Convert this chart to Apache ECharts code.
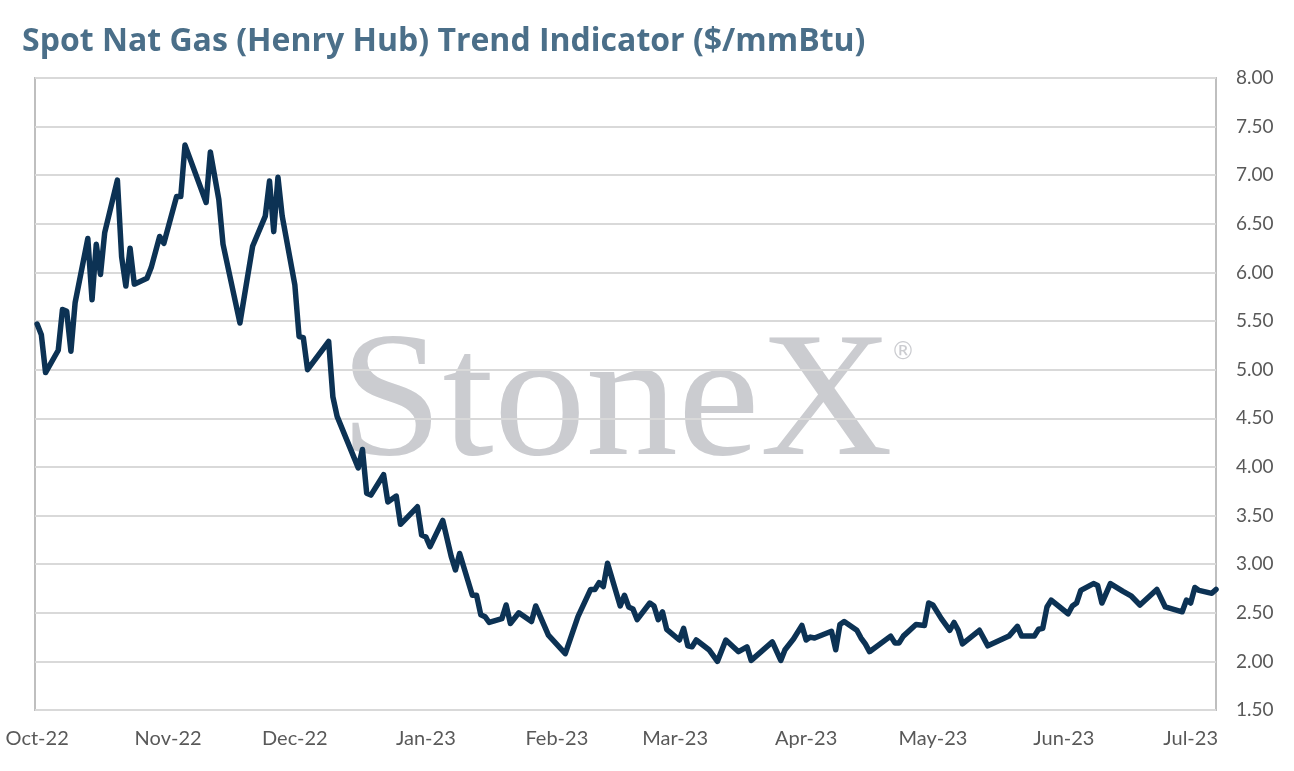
<!DOCTYPE html>
<html>
<head>
<meta charset="utf-8">
<script src="https://cdn.jsdelivr.net/npm/echarts@6/dist/echarts.min.js"></script>
<style>
html,body{margin:0;padding:0;background:#fff;}
#chart{width:1294px;height:771px;}
</style>
</head>
<body>
<div id="chart"></div>
<script>
const titleText = 'Spot Nat Gas (Henry Hub) Trend Indicator ($/mmBtu)';
const dates = [
'2022-10-01','2022-10-02','2022-10-03','2022-10-06','2022-10-07','2022-10-08','2022-10-09','2022-10-10',
'2022-10-13','2022-10-14','2022-10-15','2022-10-16','2022-10-17','2022-10-20','2022-10-21','2022-10-22',
'2022-10-23','2022-10-24','2022-10-27','2022-10-28','2022-10-30','2022-10-31','2022-11-03','2022-11-04',
'2022-11-05','2022-11-10','2022-11-11','2022-11-13','2022-11-14','2022-11-18','2022-11-21','2022-11-24',
'2022-11-25','2022-11-26','2022-11-27','2022-11-28','2022-12-01','2022-12-02','2022-12-03','2022-12-04',
'2022-12-09','2022-12-10','2022-12-11','2022-12-16','2022-12-17','2022-12-18','2022-12-19','2022-12-22',
'2022-12-23','2022-12-25','2022-12-26','2022-12-30','2022-12-31','2023-01-01','2023-01-02','2023-01-05',
'2023-01-07','2023-01-08','2023-01-09','2023-01-12','2023-01-13','2023-01-14','2023-01-15','2023-01-16',
'2023-01-19','2023-01-20','2023-01-21','2023-01-23','2023-01-26','2023-01-27','2023-01-30','2023-02-03',
'2023-02-06','2023-02-09','2023-02-10','2023-02-11','2023-02-12','2023-02-13','2023-02-16','2023-02-17',
'2023-02-18','2023-02-19','2023-02-20','2023-02-23','2023-02-24','2023-02-25','2023-02-26','2023-02-27',
'2023-03-02','2023-03-03','2023-03-04','2023-03-05','2023-03-06','2023-03-09','2023-03-11','2023-03-13',
'2023-03-16','2023-03-18','2023-03-19','2023-03-24','2023-03-26','2023-03-27','2023-03-29','2023-03-31',
'2023-04-01','2023-04-02','2023-04-03','2023-04-07','2023-04-08','2023-04-09','2023-04-10','2023-04-13',
'2023-04-14','2023-04-15','2023-04-16','2023-04-21','2023-04-22','2023-04-23','2023-04-24','2023-04-27',
'2023-04-29','2023-04-30','2023-05-01','2023-05-03','2023-05-05','2023-05-06','2023-05-07','2023-05-08',
'2023-05-12','2023-05-14','2023-05-19','2023-05-21','2023-05-22','2023-05-25','2023-05-26','2023-05-27',
'2023-05-28','2023-05-29','2023-06-02','2023-06-03','2023-06-04','2023-06-05','2023-06-08','2023-06-09',
'2023-06-10','2023-06-12','2023-06-15','2023-06-17','2023-06-19','2023-06-23','2023-06-25','2023-06-29',
'2023-06-30','2023-07-01','2023-07-02','2023-07-03','2023-07-06','2023-07-07'
];
const prices = [
5.47,5.36,4.97,5.20,5.62,5.60,5.19,5.69,
6.35,5.72,6.29,5.98,6.41,6.95,6.16,5.86,
6.25,5.88,5.94,6.05,6.37,6.30,6.78,6.78,
7.31,6.72,7.24,6.75,6.29,5.48,6.27,6.58,
6.94,6.42,6.98,6.58,5.87,5.34,5.33,5.00,
5.29,4.72,4.52,3.99,4.18,3.73,3.71,3.92,
3.64,3.70,3.41,3.59,3.30,3.28,3.18,3.45,
3.08,2.94,3.11,2.68,2.68,2.48,2.46,2.40,
2.44,2.58,2.39,2.50,2.41,2.57,2.27,2.08,
2.46,2.74,2.74,2.81,2.77,3.01,2.57,2.68,
2.56,2.54,2.43,2.60,2.57,2.43,2.51,2.33,
2.22,2.34,2.16,2.15,2.22,2.12,2.00,2.22,
2.10,2.15,2.01,2.20,2.01,2.12,2.23,2.37,
2.22,2.25,2.24,2.31,2.12,2.38,2.41,2.32,
2.24,2.18,2.10,2.26,2.19,2.19,2.26,2.38,
2.37,2.60,2.58,2.44,2.32,2.40,2.32,2.18,
2.32,2.16,2.26,2.36,2.26,2.26,2.33,2.34,
2.56,2.63,2.49,2.57,2.60,2.73,2.80,2.78,
2.60,2.80,2.72,2.67,2.58,2.74,2.56,2.51,
2.63,2.60,2.76,2.73,2.70,2.74
];
const monthTicks = ['2022-10-01','2022-11-01','2022-12-01','2023-01-01','2023-02-01','2023-03-01','2023-04-01','2023-05-01','2023-06-01','2023-07-01'];
const monthNames = ['Jan','Feb','Mar','Apr','May','Jun','Jul','Aug','Sep','Oct','Nov','Dec'];
const xMin = '2022-09-30T12:00:00Z';
const xMax = '2023-07-07T00:00:00Z';
const yMin = 1.5, yMax = 8, yStep = 0.5;

const seriesData = dates.map((d, i) => [Date.parse(d + 'T00:00:00Z'), prices[i]]);
const tickValues = monthTicks.map(d => Date.parse(d + 'T00:00:00Z'));

const chart = echarts.init(document.getElementById('chart'), null, {renderer: 'canvas'});
chart.setOption({
  animation: false,
  backgroundColor: '#ffffff',
  title: {
    text: titleText,
    left: 17,
    top: 21,
    textStyle: {fontFamily: 'Open Sans', fontWeight: 'bold', fontSize: 32, color: '#4b6f89'}
  },
  grid: {
    left: 35, right: 78, top: 78, bottom: 61,
    show: true, borderColor: '#bfbfbf', borderWidth: 2, backgroundColor: 'transparent'
  },
  graphic: [
    {
      type: 'text', z: -1, x: 340, y: 318, scaleX: 1.035,
      style: {text: 'StoneX', fontFamily: 'Liberation Serif', fontSize: 178, fill: '#cbccd0'}
    },
    {
      type: 'text', z: -1, x: 891, y: 341,
      style: {text: '®', fontFamily: 'DejaVu Sans', fontSize: 24, fill: '#cbccd0'}
    }
  ],
  xAxis: {
    type: 'value',
    min: Date.parse(xMin),
    max: Date.parse(xMax),
    axisLine: {show: false},
    axisTick: {show: false},
    splitLine: {show: false},
    axisLabel: {
      customValues: tickValues,
      margin: 19,
      fontFamily: 'Lato', fontSize: 20, color: '#595959',
      formatter: v => {
        const dt = new Date(v);
        return monthNames[dt.getUTCMonth()] + '-' + String(dt.getUTCFullYear()).slice(2);
      }
    }
  },
  yAxis: {
    type: 'value',
    position: 'right',
    min: yMin, max: yMax, interval: yStep,
    axisLine: {show: false},
    axisTick: {show: false},
    splitLine: {show: true, lineStyle: {color: '#d9d9d9', width: 2}},
    axisLabel: {
      margin: 20, fontFamily: 'Lato', fontSize: 19, color: '#595959',
      formatter: v => v.toFixed(2)
    }
  },
  series: [{
    type: 'line',
    data: seriesData,
    showSymbol: false,
    lineStyle: {color: '#0c3254', width: 5.5, join: 'round', cap: 'round'},
    z: 3
  }]
});
</script>
</body>
</html>
